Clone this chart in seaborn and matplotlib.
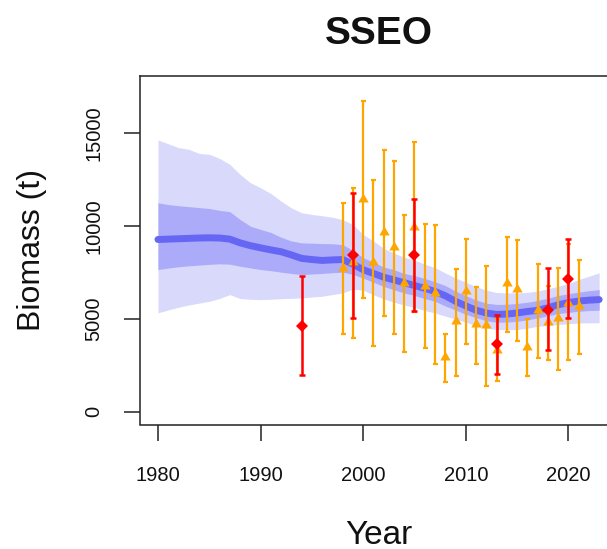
import matplotlib
matplotlib.use("Agg")
import matplotlib.pyplot as plt
import seaborn as sns

# Model biomass trajectory (t), 1980-2023
years = list(range(1980, 2024))
median = [9280, 9300, 9320, 9340, 9360, 9370, 9360, 9300, 9100, 8950,
          8830, 8720, 8620, 8450, 8260, 8200, 8150, 8180, 8200, 7950,
          7650, 7450, 7250, 7100, 6950, 6800, 6650, 6480, 6250, 5950,
          5700, 5470, 5320, 5240, 5260, 5320, 5400, 5460, 5600, 5760,
          5880, 5960, 6010, 6040]
inner_lo = [7660, 7740, 7810, 7860, 7900, 7940, 7970, 7950, 7840, 7750,
            7660, 7600, 7520, 7450, 7390, 7420, 7450, 7490, 7520, 7400,
            7200, 6980, 6750, 6570, 6400, 6260, 6100, 5950, 5700, 5480,
            5250, 5070, 4900, 4820, 4830, 4870, 4950, 5050, 5170, 5290,
            5350, 5410, 5450, 5470]
inner_hi = [11260, 11160, 11100, 11050, 11000, 10950, 10850, 10780, 10360, 10000,
            9820, 9660, 9400, 9200, 9100, 9080, 9060, 9050, 9000, 8700,
            8300, 8050, 7800, 7650, 7450, 7330, 7180, 7000, 6800, 6500,
            6250, 6020, 5850, 5780, 5790, 5830, 5900, 5990, 6120, 6260,
            6360, 6440, 6520, 6580]
outer_lo = [5330, 5480, 5630, 5750, 5850, 5950, 6100, 6310, 6100, 6060,
            6040, 6060, 6090, 6110, 6130, 6180, 6220, 6310, 6400, 6600,
            6550, 6300, 6080, 5900, 5750, 5620, 5450, 5320, 5150, 4990,
            4830, 4630, 4500, 4430, 4420, 4430, 4500, 4600, 4650, 4700,
            4740, 4780, 4790, 4790]
outer_hi = [14640, 14440, 14230, 14140, 13920, 13870, 13650, 13330, 12790, 12340,
            12070, 11760, 11350, 10980, 10720, 10630, 10560, 10480, 10350, 10090,
            9550, 9200, 8800, 8550, 8320, 8170, 7950, 7760, 7480, 7200,
            6980, 6740, 6550, 6420, 6400, 6400, 6430, 6500, 6620, 6760,
            6900, 7120, 7300, 7480]

# Orange survey estimates with intervals
orange_years = list(range(1998, 2022))
orange_val = [7770, 8040, 11440, 8040, 9660, 8850, 6960, 9950, 6800, 6420,
              2930, 4870, 6530, 4730, 4680, 3330, 6910, 6620, 3500, 5460,
              4850, 5040, 5880, 5700]
orange_lo = [4210, 3990, 6150, 3560, 5130, 4210, 3240, 5360, 3450, 2590,
             1580, 1940, 3650, 2590, 1400, 1640, 4280, 3800, 1920, 2910,
             2810, 2220, 2770, 3130]
orange_hi = [11230, 12030, 16730, 12470, 14090, 13490, 10580, 14530, 10090, 10060,
             4160, 7700, 9320, 6730, 7840, 5000, 9410, 9250, 4970, 7970,
             6760, 7750, 9010, 8170]

# Red survey estimates with intervals
red_years = [1994, 1999, 2005, 2013, 2018, 2020]
red_val = [4640, 8440, 8440, 3650, 5505, 7160]
red_lo = [2000, 5060, 5420, 2050, 3330, 5055]
red_hi = [7300, 11800, 11480, 5200, 7717, 9282]

x_ticks = [1980, 1990, 2000, 2010, 2020]
y_ticks = [0, 5000, 10000, 15000]

sns.set_style("ticks")
plt.rcParams['font.family'] = ['Liberation Sans', 'DejaVu Sans']

W, H = 607, 549
fig = plt.figure(figsize=(W / 100, H / 100), dpi=100)
ax_left, ax_right, ax_top, ax_bottom = 140, 617, 76, 424.5
ax = fig.add_axes([ax_left / W, (H - ax_bottom) / H,
                   (ax_right - ax_left) / W, (ax_bottom - ax_top) / H])

# Credible bands and median trajectory
ax.fill_between(years, outer_lo, outer_hi, color='#D9D9FB', lw=0, zorder=1)
ax.fill_between(years, inner_lo, inner_hi, color='#ABABFA', lw=0, zorder=2)
sns.lineplot(x=years, y=median, ax=ax, color='#6666F4', lw=5,
             solid_capstyle='round', zorder=3)

# Equilateral triangle marker centred on its centroid
tri = [(-1, -0.577), (1, -0.577), (0, 1.155), (-1, -0.577)]

ax.errorbar(orange_years, orange_val,
            yerr=[[v - l for v, l in zip(orange_val, orange_lo)],
                  [h - v for v, h in zip(orange_val, orange_hi)]],
            fmt='none', ecolor='orange', elinewidth=1.6, capsize=1.8,
            capthick=1.6, zorder=4)
ax.plot(orange_years, orange_val, ls='none', marker=tri, ms=8.6,
        color='orange', mec='orange', mew=0, zorder=5)

ax.errorbar(red_years, red_val,
            yerr=[[v - l for v, l in zip(red_val, red_lo)],
                  [h - v for v, h in zip(red_val, red_hi)]],
            fmt='none', ecolor='red', elinewidth=1.8, capsize=2.0,
            capthick=1.8, zorder=6)
ax.plot(red_years, red_val, ls='none', marker='D', ms=6.3,
        color='red', mec='red', mew=0, zorder=7)

ax.set_xlim(1978.25, 2024.74)
ax.set_ylim(-690, 18090)
ax.set_xticks(x_ticks)
ax.set_yticks(y_ticks)
ax.set_xticklabels([str(t) for t in x_ticks])
ax.set_yticklabels([str(t) for t in y_ticks])

ax.tick_params(direction='out', length=11.5, width=1.1, labelsize=14.5,
               color='#222222', labelcolor='#111111')
ax.tick_params(axis='x', pad=18.5)
ax.tick_params(axis='y', pad=15, labelrotation=90)
for lab in ax.get_yticklabels():
    lab.set_va('center')

ax.spines['right'].set_visible(False)
for side in ['left', 'top', 'bottom']:
    ax.spines[side].set_linewidth(1.1)
    ax.spines[side].set_color('#222222')
ax.grid(False)

ax_h = ax_bottom - ax_top
ax.set_xlabel("Year", fontsize=24, color='#111111')
ax.xaxis.set_label_coords(0.5, ((H - 535) - (H - ax_bottom)) / ax_h)
ax.xaxis.label.set_va('center')
ax.set_ylabel("Biomass (t)", fontsize=23, color='#111111')
ax.yaxis.set_label_coords((32 - ax_left) / (ax_right - ax_left), 0.5)
ax.yaxis.label.set_va('center')

ax.set_title("SSEO", fontsize=28, fontweight='bold', color='#111111',
             y=((H - 34) - (H - ax_bottom)) / ax_h, va='center', pad=0)

fig.savefig("out.png", dpi=100)
